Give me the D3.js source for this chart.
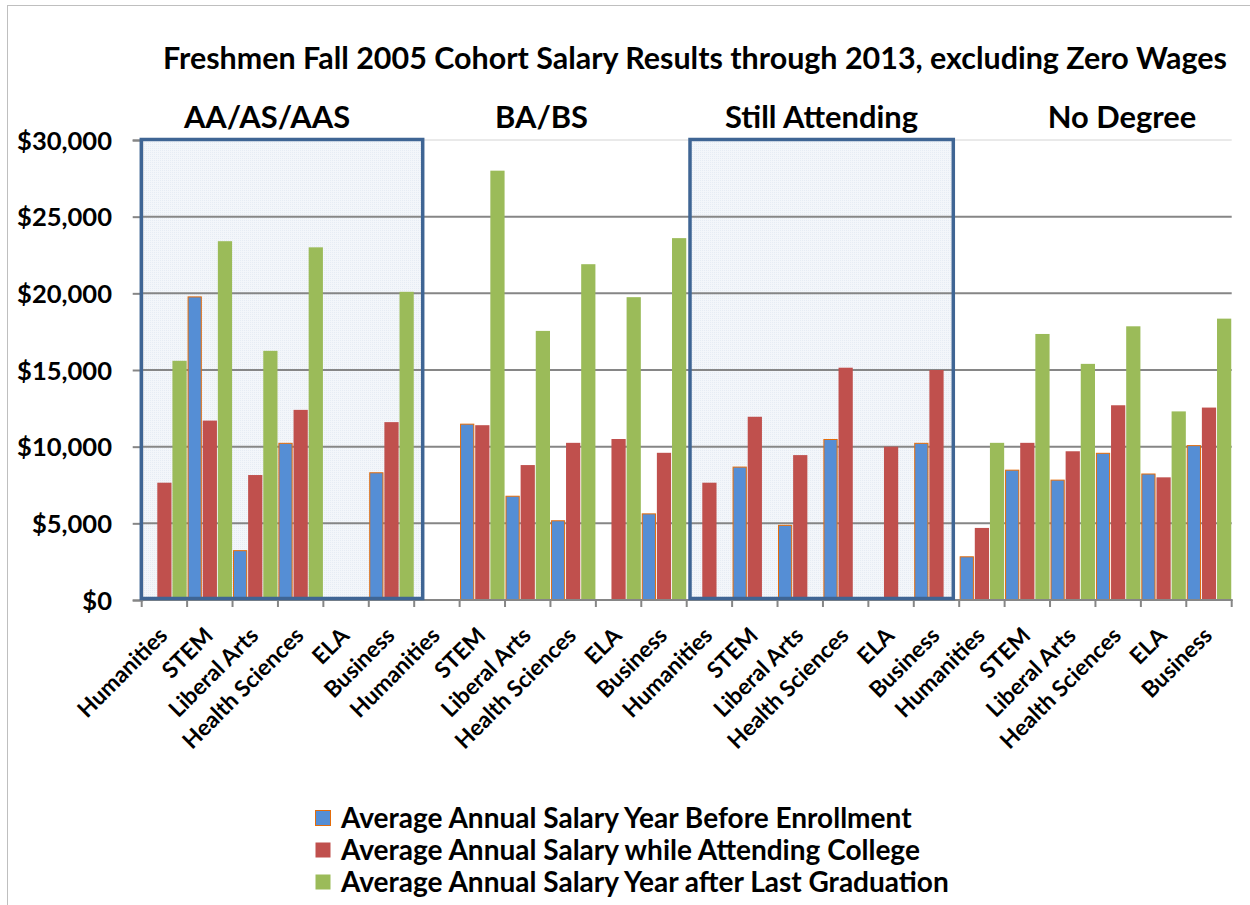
<!DOCTYPE html>
<html><head><meta charset="utf-8">
<script src="https://cdn.jsdelivr.net/npm/d3@7"></script>
<style>
body{margin:0;background:#fff}
svg{display:block}
text{font-family:Lato,"Open Sans",sans-serif;font-weight:bold;fill:#000}
</style>
</head><body><svg id="c" width="1250" height="905"></svg>
<script>
const chartTitle = "Freshmen Fall 2005 Cohort Salary Results through 2013, excluding Zero Wages";
const groups = ["AA/AS/AAS", "BA/BS", "Still Attending", "No Degree"];
const majors = ["Humanities", "STEM", "Liberal Arts", "Health Sciences", "ELA", "Business"];
const seriesNames = [
  "Average Annual Salary Year Before Enrollment",
  "Average Annual Salary while Attending College",
  "Average Annual Salary Year after Last Graduation"
];
// order: AA/AS/AAS (6 majors), BA/BS, Still Attending, No Degree
const beforeEnrollment = [
  null, 19800, 3250, 10250, null, 8330,
  null, 11500, 6800, 5200, null, 5650,
  null, 8700, 4900, 10500, null, 10250,
  2850, 8500, 7850, 9600, 8250, 10100
];
const whileAttending = [
  7650, 11700, 8150, 12400, null, 11600,
  null, 11400, 8800, 10250, 10500, 9600,
  7650, 11950, 9450, 15150, 10000, 15000,
  4700, 10250, 9700, 12700, 8000, 12550
];
const afterGraduation = [
  15600, 23400, 16250, 23000, null, 20100,
  null, 28000, 17550, 21900, 19750, 23600,
  null, null, null, null, null, null,
  10250, 17350, 15400, 17850, 12300, 18350
];
const yTicks = [0, 5000, 10000, 15000, 20000, 25000, 30000];

const seriesValues = [beforeEnrollment, whileAttending, afterGraduation];
const seriesColors = ["#558ed5", "#c0504d", "#9bbb59"];
const categories = groups.flatMap(g => majors.map(m => ({group: g, major: m})));

const svg = d3.select("#c");

function fit(sel, target, base) {
  sel.style("font-size", base + "px");
  const w = sel.node().getComputedTextLength();
  const s = base * target / w;
  sel.style("font-size", s + "px");
  return s;
}

const L = 141.7, R = 1231.7, T = 140, B = 600;
const x = d3.scaleBand().domain(d3.range(categories.length)).range([L, R]).padding(0);
const xs = d3.scaleBand().domain([0, 1, 2]).range([0, x.bandwidth()]).paddingInner(0.06).paddingOuter(0.03);
const y = d3.scaleLinear().domain([0, 30000]).range([B, T]);

// outer chart border
svg.append("rect").attr("x", 7.5).attr("y", 5.5).attr("width", 1270).attr("height", 920)
  .attr("fill", "none").attr("stroke", "#bfbfbf").attr("stroke-width", 1);

// highlight boxes
const boxes = [[141.3, 422.7], [690, 953.3]];
const defs = svg.append("defs");
const pat = defs.append("pattern").attr("id", "dots").attr("width", 2).attr("height", 2).attr("patternUnits", "userSpaceOnUse");
pat.append("rect").attr("width", 2).attr("height", 2).attr("fill", "#f3f6fa");
pat.append("rect").attr("width", 1).attr("height", 1).attr("fill", "#e6ecf4");
svg.selectAll("rect.boxfill").data(boxes).join("rect").attr("class", "boxfill")
  .attr("x", d => d[0]).attr("y", 139.5).attr("width", d => d[1] - d[0]).attr("height", 459)
  .attr("fill", "url(#dots)");

// gridlines
svg.append("line").attr("x1", L).attr("x2", R).attr("y1", y(30000)).attr("y2", y(30000))
  .attr("stroke", "#d4d4d4").attr("stroke-width", 1);
svg.selectAll("line.grid").data(yTicks.filter(d => d > 0 && d < 30000)).join("line").attr("class", "grid")
  .attr("x1", L).attr("x2", R).attr("y1", d => y(d)).attr("y2", d => y(d))
  .attr("stroke", "#868686").attr("stroke-width", 2);

// bars
seriesValues.forEach((vals, si) => {
  svg.append("g").selectAll("rect").data(vals.map((v, i) => ({v, i})).filter(d => d.v != null)).join("rect")
    .attr("x", d => x(d.i) + xs(si) + (si === 0 ? 0.5 : 0))
    .attr("width", xs.bandwidth() - (si === 0 ? 1 : 0))
    .attr("y", d => y(d.v) + (si === 0 ? 0.5 : 0))
    .attr("height", d => B - y(d.v) - (si === 0 ? 0.5 : 0))
    .attr("fill", seriesColors[si])
    .attr("stroke", si === 0 ? "#e46c0a" : "none")
    .attr("stroke-width", si === 0 ? 1 : 0);
});

// x axis line and boundary ticks
svg.append("line").attr("x1", L).attr("x2", R + 1).attr("y1", B).attr("y2", B)
  .attr("stroke", "#868686").attr("stroke-width", 2);
const bounds = d3.range(categories.length).map(i => x(i)).concat([R]);
svg.selectAll("line.xt").data(bounds).join("line").attr("class", "xt")
  .attr("x1", d => d).attr("x2", d => d).attr("y1", B).attr("y2", B + 7)
  .attr("stroke", "#868686").attr("stroke-width", 2);

// y axis
const yAxis = svg.append("g").attr("transform", `translate(${L},0)`)
  .call(d3.axisLeft(y).tickValues(yTicks).tickSize(9).tickPadding(20.7)
    .tickFormat(d => "$" + d3.format(",")(d)));
yAxis.select(".domain").attr("stroke", "#868686").attr("stroke-width", 2);
yAxis.selectAll(".tick line").attr("stroke", "#868686").attr("stroke-width", 2);
yAxis.selectAll("text").attr("fill", "#000").attr("font-family", null).attr("dy", "0.36em");
const ySize = fit(yAxis.selectAll(".tick text").filter(d => d === 30000), 95, 24);
yAxis.selectAll(".tick text").style("font-size", ySize + "px");
yAxis.attr("font-size", null).attr("font-family", null);

// x axis labels
const xAxis = svg.append("g").attr("transform", `translate(0,${B})`)
  .call(d3.axisBottom(x).tickSize(0).tickFormat(i => categories[i].major));
xAxis.select(".domain").remove();
xAxis.attr("font-size", null).attr("font-family", null);
xAxis.selectAll("text").attr("x", 0).attr("y", 0).attr("dy", 0)
  .attr("text-anchor", "end").attr("fill", "#000")
  .attr("transform", "translate(4.5,37) rotate(-45)");
const xSize = fit(xAxis.selectAll(".tick text").filter(i => i === 3), 160, 20);
xAxis.selectAll(".tick text").style("font-size", xSize + "px");

// highlight box borders
svg.selectAll("rect.boxline").data(boxes).join("rect").attr("class", "boxline")
  .attr("x", d => d[0]).attr("y", 139.5).attr("width", d => d[1] - d[0]).attr("height", 459)
  .attr("fill", "none").attr("stroke", "#3f6594").attr("stroke-width", 3.5);

// title
const t = svg.append("text").attr("x", 695).attr("y", 69).attr("text-anchor", "middle").text(chartTitle);
fit(t, 1064, 22);

// group labels
const groupCenters = [267, 541.5, 821.5, 1122];
const gl = svg.selectAll("text.grp").data(groups).join("text").attr("class", "grp")
  .attr("x", (d, i) => groupCenters[i]).attr("y", 128).attr("text-anchor", "middle").text(d => d);
const gSize = fit(gl.filter(d => d === "Still Attending"), 193, 24);
gl.style("font-size", gSize + "px");

// legend
const lg = svg.append("g");
const rowsY = [818, 850, 882];
seriesNames.forEach((name, i) => {
  lg.append("rect").attr("x", 315.5).attr("y", rowsY[i] - 7.5).attr("width", 15).attr("height", 15)
    .attr("fill", seriesColors[i]).attr("stroke", i === 0 ? "#e46c0a" : "none").attr("stroke-width", 1);
  lg.append("text").attr("class", "lt").attr("x", 341).attr("y", rowsY[i]).attr("dy", "0.35em").text(name);
});
const lSize = fit(lg.selectAll("text.lt").filter((d, i) => i === 0), 571, 24);
lg.selectAll("text.lt").style("font-size", lSize + "px");
</script>
</body></html>
